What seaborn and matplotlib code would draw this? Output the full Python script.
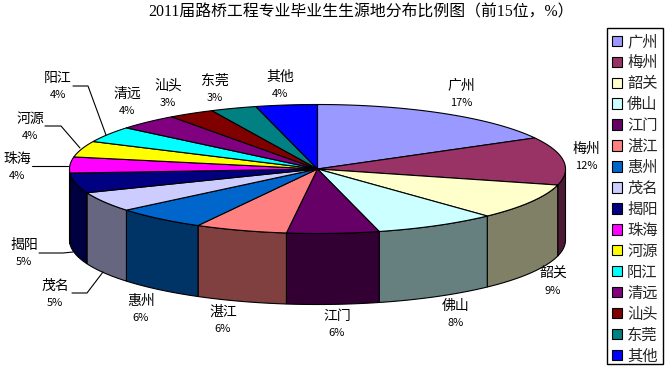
import numpy as np
import matplotlib
matplotlib.use('Agg')
import matplotlib.pyplot as plt
from matplotlib.patches import Patch, Rectangle
import seaborn as sns

regions = ['广州', '梅州', '韶关', '佛山', '江门', '湛江', '惠州', '茂名',
           '揭阳', '珠海', '河源', '阳江', '清远', '汕头', '东莞', '其他']
shares = [17, 12, 9, 8, 6, 6, 6, 5, 5, 4, 4, 4, 4, 3, 3, 4]
top_colors = ['#9999FF', '#993366', '#FFFFCC', '#CCFFFF', '#660066', '#FF8080',
              '#0066CC', '#CCCCFF', '#000080', '#FF00FF', '#FFFF00', '#00FFFF',
              '#800080', '#800000', '#008080', '#0000FF']

# label centres in pixels, same order as regions
label_xy = [(461, 86), (586, 149), (553, 274), (456, 306), (337, 316), (223, 312),
            (141, 301), (55, 286), (24, 245), (17, 159), (30, 119), (58, 78),
            (127, 94), (168, 86), (215, 81), (280, 77)]

# leader lines: region -> bent line, pixels
leaders = {
    '阳江': [(73, 86), (88, 86), (106, 135)],
    '河源': [(45, 126), (61, 126), (80, 148)],
    '珠海': [(32, 166), (68, 166)],
    '揭阳': [(39, 253), (63, 253), (73, 252)],
    '茂名': [(72, 293), (87, 293), (103, 272)],
}

cx, cy = 317.5, 169
rx, ry = 248, 64.5
depth = 71

sns.set_theme(style='white')
plt.rcParams['font.family'] = ['Noto Sans CJK SC', 'DejaVu Sans']

fig, ax = plt.subplots(figsize=(6.66, 3.8), dpi=100)
ax.set_position([0, 0, 1, 1])
ax.set_xlim(0, 666)
ax.set_ylim(380, 0)
ax.axis('off')


def arc(a0, a1):
    # angles in degrees, clockwise from 12 o'clock
    t = np.radians(np.linspace(a0, a1, 80))
    return cx + rx * np.sin(t), cy - ry * np.cos(t)


edges = np.cumsum([0] + shares) * 3.6
palette = sns.color_palette(top_colors)

# rim first, only the front half of the ellipse shows
for i, col in enumerate(palette):
    a0, a1 = max(edges[i], 90), min(edges[i + 1], 270)
    if a1 <= a0:
        continue
    x, y = arc(a0, a1)
    dark = [c * 0.5 for c in col]
    ax.fill(np.r_[x, x[::-1]], np.r_[y, y[::-1] + depth], facecolor=dark,
            edgecolor='black', linewidth=0.8)

for i, col in enumerate(palette):
    x, y = arc(edges[i], edges[i + 1])
    ax.fill(np.r_[cx, x], np.r_[cy, y], facecolor=col, edgecolor='black', linewidth=0.8)

for name, share, (lx, ly) in zip(regions, shares, label_xy):
    ax.text(lx, ly, name, ha='center', va='center', fontsize=10, color='black')
    ax.text(lx, ly + 17, f'{share}%', ha='center', va='center', fontsize=8, color='black')

for name, pts in leaders.items():
    ax.plot(*zip(*pts), color='black', linewidth=0.8)

ax.text(361, 12, '2011届路桥工程专业毕业生生源地分布比例图（前15位，%）', ha='center', va='center',
        fontsize=11.4, color='black', family=['Liberation Serif', 'Noto Sans CJK SC'])

# legend's own frame has too much room under the last row, so draw the box apart
ax.add_patch(Rectangle((607, 28), 56, 336, facecolor='white', edgecolor='black', linewidth=1))
handles = [Patch(facecolor=c, edgecolor='black', linewidth=0.8) for c in palette]
ax.legend(handles, regions, loc='upper left', bbox_to_anchor=(607 / 666, 1 - 28 / 380),
          fontsize=11, frameon=False, handlelength=0.65, handleheight=0.65,
          handletextpad=0.33, labelspacing=0.26, borderpad=0.33, borderaxespad=0)

fig.savefig('out.png', dpi=100)
